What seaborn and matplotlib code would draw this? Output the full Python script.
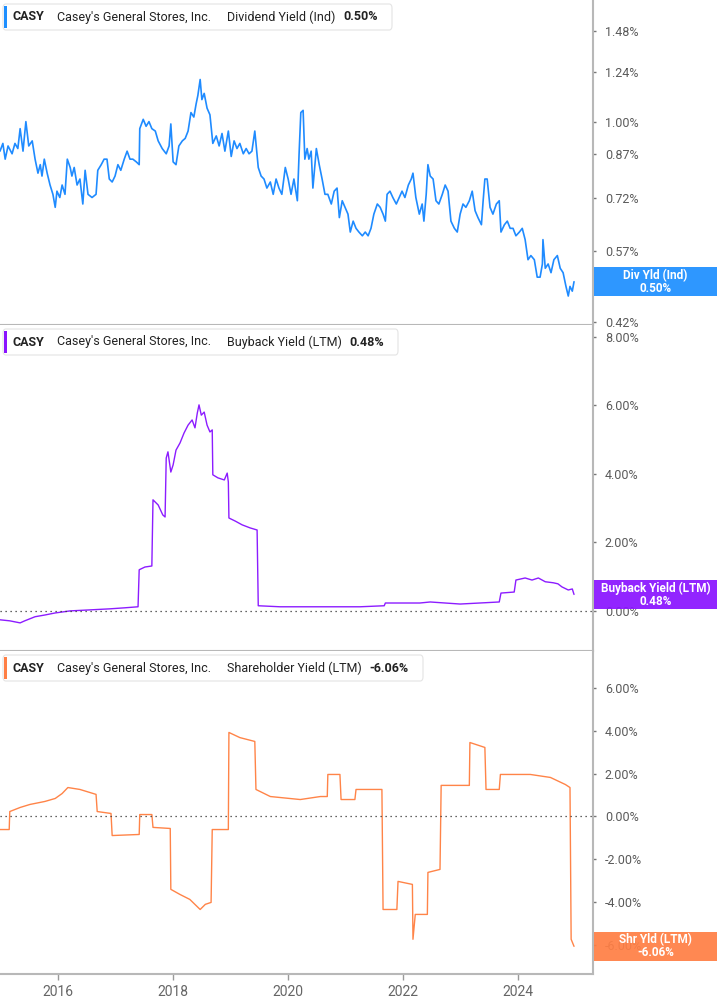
import numpy as np
import pandas as pd
import matplotlib
matplotlib.use("Agg")
import matplotlib.pyplot as plt
from matplotlib.patches import FancyBboxPatch, Rectangle
from matplotlib.ticker import FixedLocator, NullLocator
import seaborn as sns

# --- data (x in decimal years, y in %) ---
div_years = [
    2015.00, 2015.05, 2015.09, 2015.14, 2015.21, 2015.26, 2015.31, 2015.35, 2015.40, 2015.45,
    2015.50, 2015.56, 2015.61, 2015.66, 2015.70, 2015.73, 2015.77, 2015.82, 2015.87, 2015.92,
    2015.96, 2015.99, 2016.04, 2016.08, 2016.13, 2016.17, 2016.22, 2016.25, 2016.29, 2016.34,
    2016.39, 2016.44, 2016.48, 2016.53, 2016.60, 2016.67, 2016.70, 2016.76, 2016.81, 2016.86,
    2016.90, 2016.95, 2017.00, 2017.05, 2017.10, 2017.16, 2017.21, 2017.26, 2017.31, 2017.37,
    2017.42, 2017.43, 2017.49, 2017.54, 2017.59, 2017.64, 2017.70, 2017.75, 2017.82, 2017.89,
    2017.94, 2017.97, 2018.01, 2018.06, 2018.11, 2018.17, 2018.22, 2018.27, 2018.32, 2018.37,
    2018.41, 2018.44, 2018.48, 2018.51, 2018.55, 2018.60, 2018.65, 2018.70, 2018.76, 2018.81,
    2018.86, 2018.91, 2018.97, 2019.02, 2019.07, 2019.12, 2019.17, 2019.23, 2019.28, 2019.33,
    2019.38, 2019.43, 2019.49, 2019.54, 2019.59, 2019.64, 2019.70, 2019.75, 2019.80, 2019.85,
    2019.90, 2019.96, 2020.01, 2020.06, 2020.11, 2020.17, 2020.20, 2020.23, 2020.27, 2020.30,
    2020.34, 2020.37, 2020.41, 2020.44, 2020.50, 2020.55, 2020.60, 2020.65, 2020.70, 2020.76,
    2020.81, 2020.86, 2020.90, 2020.95, 2021.00, 2021.05, 2021.09, 2021.14, 2021.19, 2021.24,
    2021.30, 2021.35, 2021.40, 2021.45, 2021.50, 2021.56, 2021.61, 2021.66, 2021.70, 2021.73,
    2021.78, 2021.83, 2021.89, 2021.94, 2021.99, 2022.04, 2022.10, 2022.15, 2022.18, 2022.23,
    2022.29, 2022.34, 2022.37, 2022.41, 2022.44, 2022.48, 2022.53, 2022.58, 2022.63, 2022.69,
    2022.74, 2022.79, 2022.84, 2022.90, 2022.95, 2023.00, 2023.05, 2023.10, 2023.16, 2023.21,
    2023.26, 2023.31, 2023.37, 2023.40, 2023.43, 2023.47, 2023.52, 2023.57, 2023.63, 2023.68,
    2023.71, 2023.77, 2023.82, 2023.87, 2023.92, 2023.97, 2024.03, 2024.08, 2024.13, 2024.18,
    2024.23, 2024.29, 2024.34, 2024.39, 2024.43, 2024.44, 2024.48, 2024.53, 2024.58, 2024.63,
    2024.69, 2024.74, 2024.79, 2024.84, 2024.88, 2024.91, 2024.95, 2024.98,
]
div_yield = [
    0.88, 0.91, 0.85, 0.90, 0.87, 0.91, 0.89, 0.97, 0.88, 1.00,
    0.90, 0.92, 0.85, 0.80, 0.83, 0.79, 0.85, 0.80, 0.76, 0.73,
    0.69, 0.74, 0.72, 0.76, 0.73, 0.85, 0.82, 0.79, 0.82, 0.76,
    0.78, 0.70, 0.81, 0.73, 0.72, 0.73, 0.81, 0.83, 0.85, 0.85,
    0.78, 0.77, 0.79, 0.83, 0.81, 0.85, 0.88, 0.85, 0.85, 0.84,
    0.83, 0.97, 1.01, 0.98, 1.00, 0.97, 0.96, 0.92, 0.89, 0.87,
    0.90, 0.99, 0.84, 0.83, 0.90, 0.92, 0.93, 0.96, 1.04, 1.02,
    1.08, 1.12, 1.20, 1.10, 1.13, 1.06, 1.03, 0.91, 0.94, 0.90,
    0.95, 0.88, 0.96, 0.86, 0.92, 0.89, 0.91, 0.87, 0.89, 0.87,
    0.88, 0.96, 0.82, 0.79, 0.78, 0.75, 0.77, 0.73, 0.78, 0.75,
    0.73, 0.82, 0.78, 0.73, 0.78, 0.71, 0.87, 1.04, 1.05, 0.85,
    0.89, 0.85, 0.88, 0.75, 0.89, 0.83, 0.78, 0.73, 0.73, 0.70,
    0.74, 0.75, 0.66, 0.71, 0.69, 0.67, 0.62, 0.65, 0.63, 0.62,
    0.61, 0.62, 0.61, 0.63, 0.67, 0.70, 0.69, 0.67, 0.65, 0.73,
    0.74, 0.72, 0.70, 0.72, 0.74, 0.72, 0.76, 0.78, 0.80, 0.72,
    0.67, 0.70, 0.65, 0.73, 0.83, 0.79, 0.78, 0.71, 0.70, 0.73,
    0.76, 0.74, 0.65, 0.63, 0.62, 0.67, 0.70, 0.69, 0.71, 0.74,
    0.68, 0.66, 0.64, 0.71, 0.78, 0.78, 0.69, 0.67, 0.70, 0.71,
    0.62, 0.64, 0.65, 0.63, 0.63, 0.61, 0.62, 0.63, 0.60, 0.55,
    0.56, 0.55, 0.51, 0.51, 0.54, 0.60, 0.53, 0.54, 0.52, 0.55,
    0.56, 0.53, 0.52, 0.49, 0.47, 0.49, 0.48, 0.50,
]

buyback_years = [
    2015.00, 2015.17, 2015.35, 2015.43, 2015.61, 2015.78, 2015.96, 2016.22, 2016.57, 2016.91,
    2017.17, 2017.40, 2017.42, 2017.52, 2017.64, 2017.66, 2017.75, 2017.83, 2017.87, 2017.89,
    2017.92, 2017.97, 2018.01, 2018.06, 2018.13, 2018.20, 2018.27, 2018.34, 2018.39, 2018.43,
    2018.46, 2018.50, 2018.55, 2018.60, 2018.65, 2018.69, 2018.70, 2018.79, 2018.90, 2018.95,
    2018.97, 2018.98, 2019.09, 2019.21, 2019.35, 2019.47, 2019.49, 2019.87, 2020.57, 2021.26,
    2021.68, 2021.70, 2022.30, 2022.48, 2023.00, 2023.68, 2023.71, 2023.94, 2023.97, 2024.13,
    2024.25, 2024.36, 2024.48, 2024.62, 2024.70, 2024.77, 2024.88, 2024.95, 2024.98,
]
buyback_yield = [
    -0.26, -0.29, -0.35, -0.29, -0.17, -0.12, -0.06, 0.00, 0.03, 0.06,
    0.09, 0.12, 1.20, 1.28, 1.31, 3.24, 3.09, 2.80, 2.74, 4.46,
    4.64, 4.05, 4.26, 4.69, 4.90, 5.19, 5.42, 5.57, 5.34, 5.77,
    6.01, 5.71, 5.80, 5.42, 5.22, 5.28, 3.97, 3.88, 3.82, 4.02,
    3.76, 2.71, 2.62, 2.51, 2.42, 2.36, 0.15, 0.12, 0.12, 0.12,
    0.15, 0.23, 0.23, 0.26, 0.20, 0.26, 0.52, 0.55, 0.90, 0.96,
    0.90, 0.96, 0.85, 0.82, 0.79, 0.70, 0.61, 0.64, 0.48,
]

shr_years = [
    2015.00, 2015.16, 2015.17, 2015.35, 2015.52, 2015.78, 2015.96, 2016.08, 2016.18, 2016.39,
    2016.67, 2016.69, 2016.93, 2016.95, 2017.42, 2017.43, 2017.64, 2017.66, 2017.96, 2017.97,
    2018.13, 2018.30, 2018.48, 2018.57, 2018.67, 2018.69, 2018.97, 2018.98, 2019.17, 2019.43,
    2019.45, 2019.70, 2020.22, 2020.57, 2020.69, 2020.70, 2020.91, 2020.93, 2021.17, 2021.19,
    2021.64, 2021.66, 2021.90, 2021.92, 2022.17, 2022.18, 2022.22, 2022.43, 2022.44, 2022.65,
    2022.67, 2023.16, 2023.17, 2023.43, 2023.45, 2023.68, 2023.70, 2024.22, 2024.57, 2024.83,
    2024.91, 2024.93, 2024.98,
]
shr_yield = [
    -0.61, -0.61, 0.23, 0.42, 0.56, 0.70, 0.84, 1.07, 1.35, 1.26,
    1.03, 0.23, 0.14, -0.89, -0.84, 0.09, 0.09, -0.51, -0.56, -3.40,
    -3.64, -3.87, -4.34, -4.10, -4.01, -0.61, -0.61, 3.92, 3.68, 3.50,
    1.26, 0.93, 0.79, 0.93, 0.93, 1.96, 1.96, 0.79, 0.79, 1.26,
    1.26, -4.34, -4.34, -3.03, -3.17, -5.73, -4.57, -4.57, -2.61, -2.47,
    1.45, 1.45, 3.45, 3.22, 1.26, 1.26, 1.96, 1.96, 1.82, 1.49,
    1.35, -5.73, -6.06,
]

year_ticks = [2016, 2018, 2020, 2022, 2024]
div_ticks = [0.42, 0.57, 0.72, 0.87, 1.00, 1.24, 1.48]
buyback_ticks = [0, 2, 4, 6, 8]
shr_ticks = [-6, -4, -2, 0, 2, 4, 6]

W, H = 717, 1005
sns.set_theme(style="white")
plt.rcParams['font.family'] = ['Roboto', 'DejaVu Sans']

fig = plt.figure(figsize=(W / 100, H / 100), dpi=100)


def fx(x):
    return x / W


def fy(y):
    return 1 - y / H


right_px = 593
panels = [(0, 325), (325, 651), (651, 974)]
axes = [fig.add_axes([0, fy(b), fx(right_px), (b - t) / H]) for t, b in panels]

specs = [
    dict(x=div_years, y=div_yield, color='#1f8bff', box='#1e8fff', log=True,
         ylim=(0.4146, 1.693), ticks=div_ticks,
         metric='Dividend Yield (Ind)', val='0.50%', short='Div Yld (Ind)',
         head_right=392, val_x=343),
    dict(x=buyback_years, y=buyback_yield, color='#8c1cff', box='#8a14ff', log=False,
         ylim=(-1.17, 8.34), ticks=buyback_ticks,
         metric='Buyback Yield (LTM)', val='0.48%', short='Buyback Yield (LTM)',
         head_right=398, val_x=349),
    dict(x=shr_years, y=shr_yield, color='#ff8448', box='#ff7f45', log=False,
         ylim=(-7.35, 7.72), ticks=shr_ticks,
         metric='Shareholder Yield (LTM)', val='-6.06%', short='Shr Yld (LTM)',
         head_right=423, val_x=369),
]

head_fs = 9.0

for i, (ax, s) in enumerate(zip(axes, specs)):
    df = pd.DataFrame({'year': s['x'], 'val': s['y']})
    sns.lineplot(data=df, x='year', y='val', ax=ax, color=s['color'],
                 lw=1.2 if i == 0 else 1.0, estimator=None, sort=False)
    ax.set_xlim(2015.0, 2025.31)
    ax.set_xlabel('')
    ax.set_ylabel('')
    if s['log']:
        ax.set_yscale('log')
    ax.set_ylim(*s['ylim'])
    ax.yaxis.set_major_locator(FixedLocator(s['ticks']))
    ax.yaxis.set_minor_locator(NullLocator())
    ax.set_yticklabels([f'{t:.2f}%' for t in s['ticks']])
    ax.yaxis.tick_right()
    ax.tick_params(axis='y', length=2.5, width=1, color='#777', pad=6,
                   labelsize=9, labelcolor='#5a5a5a', right=True, left=False)
    if not s['log']:
        ax.axhline(0, color='#333', lw=0.9, ls=(0, (1, 3)))
    for side in ['left', 'top']:
        ax.spines[side].set_visible(False)
    for side in ['right', 'bottom']:
        ax.spines[side].set_color('#b8b8b8')
        ax.spines[side].set_linewidth(1.5)
    if i < 2:
        ax.tick_params(axis='x', bottom=False, labelbottom=False)
    else:
        ax.set_xticks(year_ticks)
        ax.set_xticklabels([str(y) for y in year_ticks])
        ax.tick_params(axis='x', bottom=True, length=4, width=1, color='#999',
                       labelsize=10, labelcolor='#666', pad=4)

    # header box
    top = panels[i][0] + 4
    hb = FancyBboxPatch((fx(3), fy(top + 26)), fx(s['head_right'] - 3), 26 / H,
                        boxstyle='round,pad=0,rounding_size=0.004',
                        transform=fig.transFigure, facecolor='white',
                        edgecolor='#e4e4e4', lw=0.8, zorder=3)
    fig.patches.append(hb)
    fig.patches.append(Rectangle((fx(4), fy(top + 24)), fx(3), 22 / H,
                                 transform=fig.transFigure, facecolor=s['box'],
                                 edgecolor='none', zorder=4))
    cy = fy(top + 13)
    fig.text(fx(13), cy, 'CASY', fontsize=head_fs, fontweight='bold', color='#222',
             va='center', ha='left', zorder=5)
    fig.text(fx(57), cy, "Casey's General Stores, Inc.", fontsize=head_fs, color='#222',
             va='center', ha='left', zorder=5)
    fig.text(fx(227), cy, s['metric'], fontsize=head_fs, color='#222',
             va='center', ha='left', zorder=5)
    fig.text(fx(s['val_x']), cy, s['val'], fontsize=head_fs, fontweight='bold', color='#222',
             va='center', ha='left', zorder=5)

    # last value box on the right
    last = s['y'][-1]
    disp_y = ax.transData.transform((2020, last))[1]
    yc = disp_y / fig.dpi / fig.get_figheight()
    fig.patches.append(Rectangle((fx(594), yc - 14.5 / H), fx(W - 594), 29 / H,
                                 transform=fig.transFigure, facecolor=s['box'],
                                 edgecolor='none', alpha=0.93, zorder=3))
    fig.text(fx(655.5), yc, f"{s['short']}\n{s['val']}", fontsize=8.5,
             fontweight='bold', color='white', ha='center', va='center',
             linespacing=1.0, zorder=5)

fig.savefig('out.png', dpi=100)
